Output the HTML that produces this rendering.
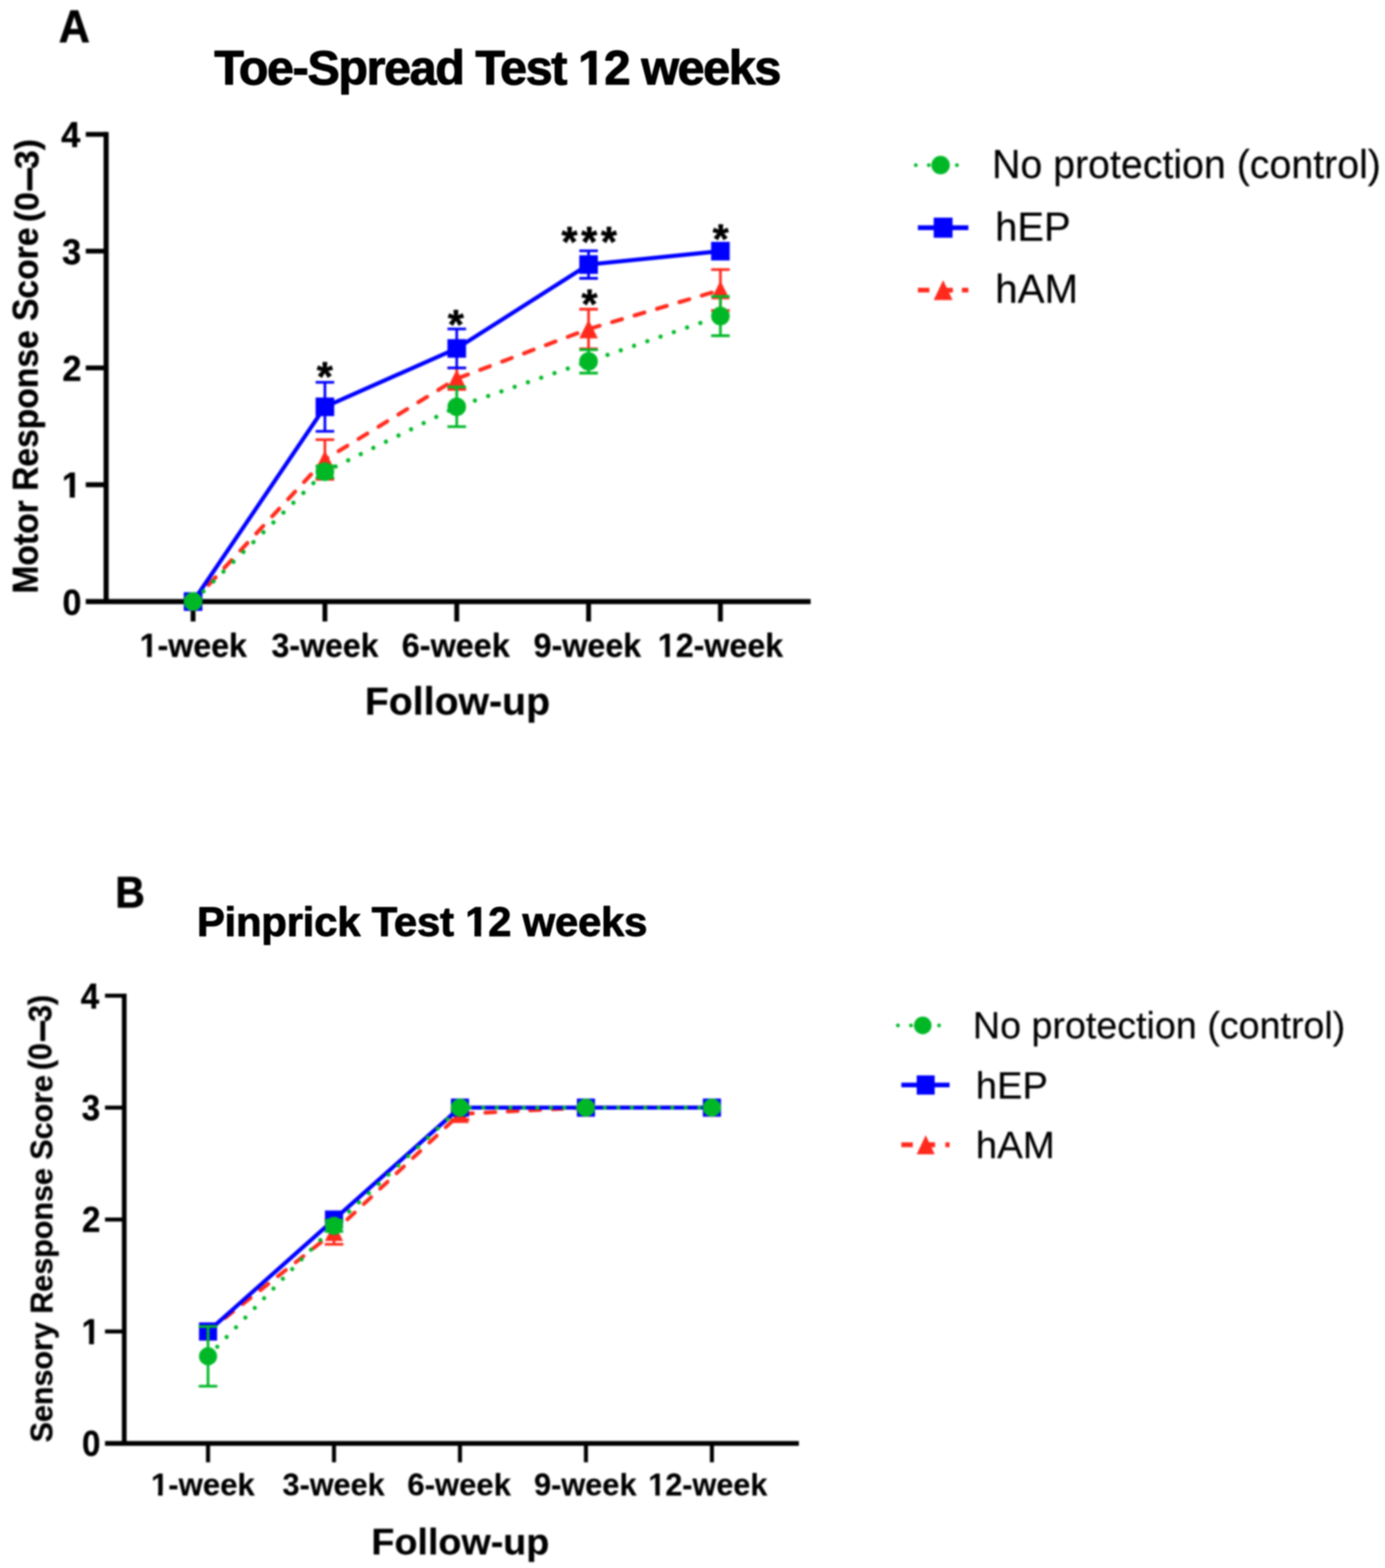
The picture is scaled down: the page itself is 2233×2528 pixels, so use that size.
<!DOCTYPE html>
<html lang="en">
<head>
<meta charset="utf-8">
<title>Toe-Spread Test and Pinprick Test, 12 weeks</title>
<style>
html,body{margin:0;padding:0;background:#fff;}
body{width:2233px;height:2528px;overflow:hidden;font-family:"Liberation Sans",sans-serif;}
svg{display:block;}
text{white-space:pre;}
</style>
</head>
<body>
<svg width="2233" height="2528" viewBox="0 0 2233 2528" font-family="'Liberation Sans', sans-serif" role="img" aria-label="Toe-Spread Test and Pinprick Test over 12 weeks">
<defs>
<filter id="soft-title" x="-5%" y="-5%" width="110%" height="110%" color-interpolation-filters="sRGB"><feGaussianBlur stdDeviation="0.9"/></filter>
<filter id="soft-plot" x="-5%" y="-5%" width="110%" height="110%" color-interpolation-filters="sRGB"><feGaussianBlur stdDeviation="1.5"/></filter>
<filter id="soft-panel" x="-5%" y="-5%" width="110%" height="110%" color-interpolation-filters="sRGB"><feGaussianBlur stdDeviation="1.5"/></filter>
</defs>
<rect width="2233" height="2528" fill="#fff"/>
<g id="panel-a">
<g class="panel-label" filter="url(#soft-panel)">
<g transform="translate(94.76,68.00) scale(0.9308,1)">
<text font-size="74.56" font-weight="bold" fill="#000" stroke="#000" stroke-width="1.0" stroke-linejoin="round" >A</text>
</g>
</g>
<g class="title" filter="url(#soft-title)">
<g transform="translate(345.42,136.10) scale(1.0000,1)">
<text font-size="78.20" font-weight="bold" fill="#000" stroke="#000" stroke-width="1.6" stroke-linejoin="round" letter-spacing="-2.257" >Toe-Spread Test 12 weeks</text>
<rect x="588.39" y="-10.29" width="15.67" height="12.49" fill="#fff"/>
<rect x="616.45" y="-10.29" width="14.65" height="12.49" fill="#fff"/>
</g>
</g>
<g class="plot" filter="url(#soft-plot)">
<g stroke="#000" stroke-width="8.2" fill="none" stroke-linecap="butt">
<path d="M171.10,212.70 V973.90"/>
<path d="M138.30,969.80 H1307.00"/>
</g>
<g stroke="#000" stroke-width="7.8" fill="none" stroke-linecap="butt">
<path d="M138.30,781.50 H171.10"/>
<path d="M138.30,593.20 H171.10"/>
<path d="M138.30,404.90 H171.10"/>
<path d="M138.30,216.60 H171.10"/>
<path d="M311.30,969.80 V1002.00"/>
<path d="M523.85,969.80 V1002.00"/>
<path d="M736.40,969.80 V1002.00"/>
<path d="M948.95,969.80 V1002.00"/>
<path d="M1161.50,969.80 V1002.00"/>
</g>
<g stroke="#ff2a1c" stroke-width="4.3" fill="none">
<path d="M523.85,708.89 V772.91 M508.85,708.89 H538.85 M508.85,772.91 H538.85"/>
<path d="M736.40,593.20 V627.85 M721.40,593.20 H751.40 M721.40,627.85 H751.40"/>
<path d="M948.95,498.49 V562.51 M933.95,498.49 H963.95 M933.95,562.51 H963.95"/>
<path d="M1161.50,434.65 V500.56 M1146.50,434.65 H1176.50 M1146.50,500.56 H1176.50"/>
</g>
<path d="M311.30,969.80 L523.85,740.90 L736.40,610.52 L948.95,530.50 L1161.50,467.60" stroke="#ff2a1c" stroke-width="6.4" fill="none" stroke-linejoin="round" stroke-linecap="round" stroke-dasharray="16.6 21.1" stroke-dashoffset="1.0"/>
<g fill="#ff2a1c">
<path d="M311.30,954.80 L326.30,984.80 H296.30 Z"/>
<path d="M523.85,725.90 L538.85,755.90 H508.85 Z"/>
<path d="M736.40,595.52 L751.40,625.52 H721.40 Z"/>
<path d="M948.95,515.50 L963.95,545.50 H933.95 Z"/>
<path d="M1161.50,452.60 L1176.50,482.60 H1146.50 Z"/>
</g>
<g stroke="#0000ff" stroke-width="4.3" fill="none">
<path d="M523.85,616.36 V695.45 M508.85,616.36 H538.85 M508.85,695.45 H538.85"/>
<path d="M736.40,530.31 V593.20 M721.40,530.31 H751.40 M721.40,593.20 H751.40"/>
<path d="M948.95,404.34 V448.77 M933.95,404.34 H963.95 M933.95,448.77 H963.95"/>
</g>
<path d="M311.30,969.80 L523.85,655.90 L736.40,561.75 L948.95,426.55 L1161.50,404.90" stroke="#0000ff" stroke-width="6.6" fill="none" stroke-linejoin="round" stroke-linecap="butt" stroke-dashoffset="0"/>
<g fill="#0000ff">
<rect x="296.30" y="954.80" width="30.00" height="30.00"/>
<rect x="508.85" y="640.90" width="30.00" height="30.00"/>
<rect x="721.40" y="546.75" width="30.00" height="30.00"/>
<rect x="933.95" y="411.55" width="30.00" height="30.00"/>
<rect x="1146.50" y="389.90" width="30.00" height="30.00"/>
</g>
<g stroke="#00b826" stroke-width="4.3" fill="none">
<path d="M523.85,751.18 V770.01 M508.85,751.18 H538.85 M508.85,770.01 H538.85"/>
<path d="M736.40,623.89 V687.91 M721.40,623.89 H751.40 M721.40,687.91 H751.40"/>
<path d="M948.95,563.83 V601.49 M933.95,563.83 H963.95 M933.95,601.49 H963.95"/>
<path d="M1161.50,477.96 V541.23 M1146.50,477.96 H1176.50 M1146.50,541.23 H1176.50"/>
</g>
<path d="M311.30,969.80 L523.85,760.60 L736.40,655.90 L948.95,582.66 L1161.50,509.59" stroke="#00b826" stroke-width="6.8" fill="none" stroke-linejoin="round" stroke-linecap="round" stroke-dasharray="0.01 22.6" stroke-dashoffset="21.7"/>
<g fill="#00b826">
<circle cx="311.30" cy="969.80" r="15.00"/>
<circle cx="523.85" cy="760.60" r="15.00"/>
<circle cx="736.40" cy="655.90" r="15.00"/>
<circle cx="948.95" cy="582.66" r="15.00"/>
<circle cx="1161.50" cy="509.59" r="15.00"/>
</g>
<g transform="translate(60.70,956.96) rotate(-90) scale(0.9561,1)">
<text font-size="56.69" font-weight="bold" fill="#000" stroke="#000" stroke-width="0.6" stroke-linejoin="round" >Motor Response Score<tspan dx="-6.4" dy="0.9" font-size="54.4" textLength="66.15" lengthAdjust="spacingAndGlyphs"> (0</tspan><tspan dx="2.5" dy="1.5" font-size="54.4" textLength="38.8" lengthAdjust="spacingAndGlyphs" stroke-width="3">–</tspan><tspan dx="-2.2" dy="-1.5" font-size="54.4" textLength="50.4" lengthAdjust="spacingAndGlyphs">3)</tspan></text>
</g>
<g transform="translate(100.67,990.60) scale(0.9447,1)">
<text font-size="58.14" font-weight="bold" fill="#000" stroke="#000" stroke-width="0.7" stroke-linejoin="round" >0</text>
</g>
<g transform="translate(100.00,802.30) scale(0.9441,1)">
<text font-size="58.14" font-weight="bold" fill="#000" stroke="#000" stroke-width="0.7" stroke-linejoin="round" >1</text>
<rect x="1.16" y="-7.77" width="12.01" height="9.52" fill="#fff"/>
<rect x="21.89" y="-7.77" width="11.25" height="9.52" fill="#fff"/>
</g>
<g transform="translate(100.66,614.00) scale(0.9449,1)">
<text font-size="58.14" font-weight="bold" fill="#000" stroke="#000" stroke-width="0.7" stroke-linejoin="round" >2</text>
</g>
<g transform="translate(100.36,425.70) scale(0.9458,1)">
<text font-size="58.14" font-weight="bold" fill="#000" stroke="#000" stroke-width="0.7" stroke-linejoin="round" >3</text>
</g>
<g transform="translate(98.65,237.40) scale(0.9475,1)">
<text font-size="58.14" font-weight="bold" fill="#000" stroke="#000" stroke-width="0.7" stroke-linejoin="round" >4</text>
</g>
<g transform="translate(225.26,1058.60) scale(0.9641,1)">
<text font-size="53.78" font-weight="bold" fill="#000" stroke="#000" stroke-width="0.4" stroke-linejoin="round" >1-week</text>
<rect x="1.09" y="-7.17" width="11.21" height="8.77" fill="#fff"/>
<rect x="20.13" y="-7.17" width="10.52" height="8.77" fill="#fff"/>
</g>
<g transform="translate(437.74,1058.60) scale(0.9620,1)">
<text font-size="53.78" font-weight="bold" fill="#000" stroke="#000" stroke-width="0.4" stroke-linejoin="round" >3-week</text>
</g>
<g transform="translate(647.74,1058.60) scale(0.9714,1)">
<text font-size="53.78" font-weight="bold" fill="#000" stroke="#000" stroke-width="0.4" stroke-linejoin="round" >6-week</text>
</g>
<g transform="translate(860.28,1058.60) scale(0.9673,1)">
<text font-size="53.78" font-weight="bold" fill="#000" stroke="#000" stroke-width="0.4" stroke-linejoin="round" >9-week</text>
</g>
<g transform="translate(1060.55,1058.60) scale(0.9661,1)">
<text font-size="53.78" font-weight="bold" fill="#000" stroke="#000" stroke-width="0.4" stroke-linejoin="round" >12-week</text>
<rect x="1.09" y="-7.17" width="11.21" height="8.77" fill="#fff"/>
<rect x="20.13" y="-7.17" width="10.52" height="8.77" fill="#fff"/>
</g>
<g transform="translate(588.18,1151.50) scale(1.0055,1)">
<text font-size="62.94" font-weight="bold" fill="#000" stroke="#000" stroke-width="0.3" stroke-linejoin="round" >Follow-up</text>
</g>
<text transform="translate(510.72,630.38) scale(0.9855,1)" font-size="67.56" font-weight="bold" letter-spacing="6.19" stroke="#000" stroke-width="0.8" stroke-linejoin="round">*</text>
<text transform="translate(722.02,545.88) scale(0.9855,1)" font-size="67.56" font-weight="bold" letter-spacing="6.19" stroke="#000" stroke-width="0.8" stroke-linejoin="round">*</text>
<text transform="translate(905.22,412.62) scale(0.9701,1)" font-size="68.63" font-weight="bold" letter-spacing="5.98" stroke="#000" stroke-width="0.8" stroke-linejoin="round">***</text>
<text transform="translate(937.52,512.88) scale(0.9855,1)" font-size="67.56" font-weight="bold" letter-spacing="6.19" stroke="#000" stroke-width="0.8" stroke-linejoin="round">*</text>
<text transform="translate(1149.02,408.38) scale(0.9855,1)" font-size="67.56" font-weight="bold" letter-spacing="6.19" stroke="#000" stroke-width="0.8" stroke-linejoin="round">*</text>
<g class="legend">
<g fill="#00b826">
<circle cx="1476.50" cy="266.20" r="3.0"/>
<circle cx="1497.50" cy="266.20" r="3.0"/>
<circle cx="1542.80" cy="266.20" r="3.0"/>
<circle cx="1516.50" cy="266.20" r="14.90"/>
</g>
<path d="M1479.90,367.10 H1561.30" stroke="#0000ff" stroke-width="7.6"/>
<rect x="1505.40" y="350.90" width="30.40" height="32.40" fill="#0000ff"/>
<path d="M1479.90,467.80 H1561.30" stroke="#ff2a1c" stroke-width="7.6" stroke-dasharray="18.5 17" fill="none"/>
<path d="M1520.60,451.80 L1535.80,483.80 H1505.40 Z" fill="#ff2a1c"/>
<path d="M1522.60,467.80 H1536.30" stroke="#ff2a1c" stroke-width="7.6"/>
<g transform="translate(1599.42,287.30) scale(0.9910,1)">
<text font-size="63.95" font-weight="normal" fill="#000" stroke="#000" stroke-width="0.3" stroke-linejoin="round" >No protection (control)</text>
</g>
<g transform="translate(1604.54,388.20) scale(1.0067,1)">
<text font-size="63.95" font-weight="normal" fill="#000" stroke="#000" stroke-width="0.3" stroke-linejoin="round" >hEP</text>
</g>
<g transform="translate(1604.49,488.00) scale(1.0175,1)">
<text font-size="63.95" font-weight="normal" fill="#000" stroke="#000" stroke-width="0.3" stroke-linejoin="round" >hAM</text>
</g>
</g>
</g>
</g>
<g id="panel-b">
<g class="panel-label" filter="url(#soft-panel)">
<g transform="translate(185.63,1462.90) scale(0.9337,1)">
<text font-size="70.93" font-weight="bold" fill="#000" stroke="#000" stroke-width="1.0" stroke-linejoin="round" >B</text>
</g>
</g>
<g class="title" filter="url(#soft-title)">
<g transform="translate(317.44,1508.80) scale(1.0000,1)">
<text font-size="67.59" font-weight="bold" fill="#000" stroke="#000" stroke-width="1.4" stroke-linejoin="round" letter-spacing="-0.407" >Pinprick Test 12 weeks</text>
<rect x="433.78" y="-9.10" width="13.73" height="11.20" fill="#fff"/>
<rect x="458.24" y="-9.10" width="12.86" height="11.20" fill="#fff"/>
</g>
</g>
<g class="plot" filter="url(#soft-plot)">
<g stroke="#000" stroke-width="7.6" fill="none" stroke-linecap="butt">
<path d="M200.30,1602.05 V2330.90"/>
<path d="M169.30,2327.10 H1288.00"/>
</g>
<g stroke="#000" stroke-width="6.5" fill="none" stroke-linecap="butt">
<path d="M169.30,2146.65 H200.30"/>
<path d="M169.30,1966.20 H200.30"/>
<path d="M169.30,1785.75 H200.30"/>
<path d="M169.30,1605.30 H200.30"/>
<path d="M335.40,2327.10 V2357.60"/>
<path d="M538.50,2327.10 V2357.60"/>
<path d="M741.60,2327.10 V2357.60"/>
<path d="M944.70,2327.10 V2357.60"/>
<path d="M1147.80,2327.10 V2357.60"/>
</g>
<g stroke="#ff2a1c" stroke-width="4.3" fill="none">
<path d="M538.50,1966.38 V2006.08 M523.50,1966.38 H553.50 M523.50,2006.08 H553.50"/>
<path d="M741.60,1786.83 V1804.88 M726.60,1786.83 H756.60 M726.60,1804.88 H756.60"/>
</g>
<path d="M335.40,2146.65 L538.50,1986.23 L741.60,1795.86 L944.70,1785.75 L1147.80,1785.75" stroke="#ff2a1c" stroke-width="6.2" fill="none" stroke-linejoin="round" stroke-linecap="round" stroke-dasharray="16.0 20.2" stroke-dashoffset="1.0"/>
<g fill="#ff2a1c">
<path d="M335.40,2132.05 L350.00,2161.25 H320.80 Z"/>
<path d="M538.50,1971.63 L553.10,2000.83 H523.90 Z"/>
<path d="M741.60,1781.26 L756.20,1810.46 H727.00 Z"/>
<path d="M944.70,1771.15 L959.30,1800.35 H930.10 Z"/>
<path d="M1147.80,1771.15 L1162.40,1800.35 H1133.20 Z"/>
</g>
<g stroke="#0000ff" stroke-width="4.3" fill="none">
</g>
<path d="M335.40,2146.65 L538.50,1966.20 L741.60,1785.75 L944.70,1785.75 L1147.80,1785.75" stroke="#0000ff" stroke-width="6.5" fill="none" stroke-linejoin="round" stroke-linecap="butt" stroke-dashoffset="0"/>
<g fill="#0000ff">
<rect x="320.80" y="2132.05" width="29.20" height="29.20"/>
<rect x="523.90" y="1951.60" width="29.20" height="29.20"/>
<rect x="727.00" y="1771.15" width="29.20" height="29.20"/>
<rect x="930.10" y="1771.15" width="29.20" height="29.20"/>
<rect x="1133.20" y="1771.15" width="29.20" height="29.20"/>
</g>
<g stroke="#00b826" stroke-width="4.3" fill="none">
<path d="M335.40,2138.53 V2234.89 M320.40,2138.53 H350.40 M320.40,2234.89 H350.40"/>
<path d="M538.50,1967.28 V1985.33 M523.50,1967.28 H553.50 M523.50,1985.33 H553.50"/>
</g>
<path d="M335.40,2186.71 L538.50,1976.31 L741.60,1785.75 L944.70,1785.75 L1147.80,1785.75" stroke="#00b826" stroke-width="6.6" fill="none" stroke-linejoin="round" stroke-linecap="round" stroke-dasharray="0.01 21.74" stroke-dashoffset="0.3"/>
<g fill="#00b826">
<circle cx="335.40" cy="2186.71" r="14.60"/>
<circle cx="538.50" cy="1976.31" r="14.60"/>
<circle cx="741.60" cy="1785.75" r="14.60"/>
<circle cx="944.70" cy="1785.75" r="14.60"/>
<circle cx="1147.80" cy="1785.75" r="14.60"/>
</g>
<g transform="translate(84.60,2325.42) rotate(-90) scale(0.9792,1)">
<text font-size="50.15" font-weight="bold" fill="#000" stroke="#000" stroke-width="0.5" stroke-linejoin="round" >Sensory Response Score<tspan dx="-6.0" dy="-1.6" font-size="52.4" textLength="58.5" lengthAdjust="spacingAndGlyphs"> (0</tspan><tspan dx="3.1" font-size="52.4" textLength="34.4" lengthAdjust="spacingAndGlyphs" stroke-width="2.6">–</tspan><tspan dx="-2.7" font-size="52.4" textLength="44.6" lengthAdjust="spacingAndGlyphs">3)</tspan></text>
</g>
<g transform="translate(132.16,2347.35) scale(0.9329,1)">
<text font-size="57.12" font-weight="bold" fill="#000" stroke="#000" stroke-width="0.6" stroke-linejoin="round" >0</text>
</g>
<g transform="translate(131.50,2166.90) scale(0.9324,1)">
<text font-size="57.12" font-weight="bold" fill="#000" stroke="#000" stroke-width="0.6" stroke-linejoin="round" >1</text>
<rect x="1.16" y="-7.61" width="11.82" height="9.31" fill="#fff"/>
<rect x="21.46" y="-7.61" width="11.08" height="9.31" fill="#fff"/>
</g>
<g transform="translate(132.15,1986.45) scale(0.9331,1)">
<text font-size="57.12" font-weight="bold" fill="#000" stroke="#000" stroke-width="0.6" stroke-linejoin="round" >2</text>
</g>
<g transform="translate(131.86,1806.00) scale(0.9339,1)">
<text font-size="57.12" font-weight="bold" fill="#000" stroke="#000" stroke-width="0.6" stroke-linejoin="round" >3</text>
</g>
<g transform="translate(130.21,1625.55) scale(0.9354,1)">
<text font-size="57.12" font-weight="bold" fill="#000" stroke="#000" stroke-width="0.6" stroke-linejoin="round" >4</text>
</g>
<g transform="translate(243.41,2411.00) scale(1.0152,1)">
<text font-size="49.42" font-weight="bold" fill="#000" stroke="#000" stroke-width="0.3" stroke-linejoin="round" >1-week</text>
<rect x="0.92" y="-6.66" width="10.42" height="8.21" fill="#fff"/>
<rect x="18.46" y="-6.66" width="9.78" height="8.21" fill="#fff"/>
</g>
<g transform="translate(455.54,2411.00) scale(0.9986,1)">
<text font-size="49.42" font-weight="bold" fill="#000" stroke="#000" stroke-width="0.3" stroke-linejoin="round" >3-week</text>
</g>
<g transform="translate(656.87,2411.00) scale(1.0124,1)">
<text font-size="49.42" font-weight="bold" fill="#000" stroke="#000" stroke-width="0.3" stroke-linejoin="round" >6-week</text>
</g>
<g transform="translate(860.92,2411.00) scale(1.0030,1)">
<text font-size="49.42" font-weight="bold" fill="#000" stroke="#000" stroke-width="0.3" stroke-linejoin="round" >9-week</text>
</g>
<g transform="translate(1045.27,2411.00) scale(0.9980,1)">
<text font-size="49.42" font-weight="bold" fill="#000" stroke="#000" stroke-width="0.3" stroke-linejoin="round" >12-week</text>
<rect x="0.92" y="-6.66" width="10.42" height="8.21" fill="#fff"/>
<rect x="18.46" y="-6.66" width="9.78" height="8.21" fill="#fff"/>
</g>
<g transform="translate(598.85,2506.00) scale(1.0194,1)">
<text font-size="59.59" font-weight="bold" fill="#000" stroke="#000" stroke-width="0.3" stroke-linejoin="round" >Follow-up</text>
</g>
<g class="legend">
<g fill="#00b826">
<circle cx="1447.70" cy="1653.20" r="3.0"/>
<circle cx="1468.70" cy="1653.20" r="3.0"/>
<circle cx="1514.00" cy="1653.20" r="3.0"/>
<circle cx="1487.70" cy="1653.20" r="14.20"/>
</g>
<path d="M1453.20,1749.30 H1531.00" stroke="#0000ff" stroke-width="7.6"/>
<rect x="1478.00" y="1733.80" width="29.00" height="31.00" fill="#0000ff"/>
<path d="M1453.20,1845.60 H1531.00" stroke="#ff2a1c" stroke-width="7.6" stroke-dasharray="18.5 17" fill="none"/>
<path d="M1492.50,1830.30 L1507.00,1860.90 H1478.00 Z" fill="#ff2a1c"/>
<path d="M1494.50,1845.60 H1507.50" stroke="#ff2a1c" stroke-width="7.6"/>
<g transform="translate(1568.54,1674.10) scale(0.9853,1)">
<text font-size="61.63" font-weight="normal" fill="#000" stroke="#000" stroke-width="0.3" stroke-linejoin="round" >No protection (control)</text>
</g>
<g transform="translate(1573.35,1770.60) scale(0.9970,1)">
<text font-size="61.63" font-weight="normal" fill="#000" stroke="#000" stroke-width="0.3" stroke-linejoin="round" >hEP</text>
</g>
<g transform="translate(1573.32,1866.60) scale(1.0047,1)">
<text font-size="61.63" font-weight="normal" fill="#000" stroke="#000" stroke-width="0.3" stroke-linejoin="round" >hAM</text>
</g>
</g>
</g>
</g>
</svg>
</body>
</html>
